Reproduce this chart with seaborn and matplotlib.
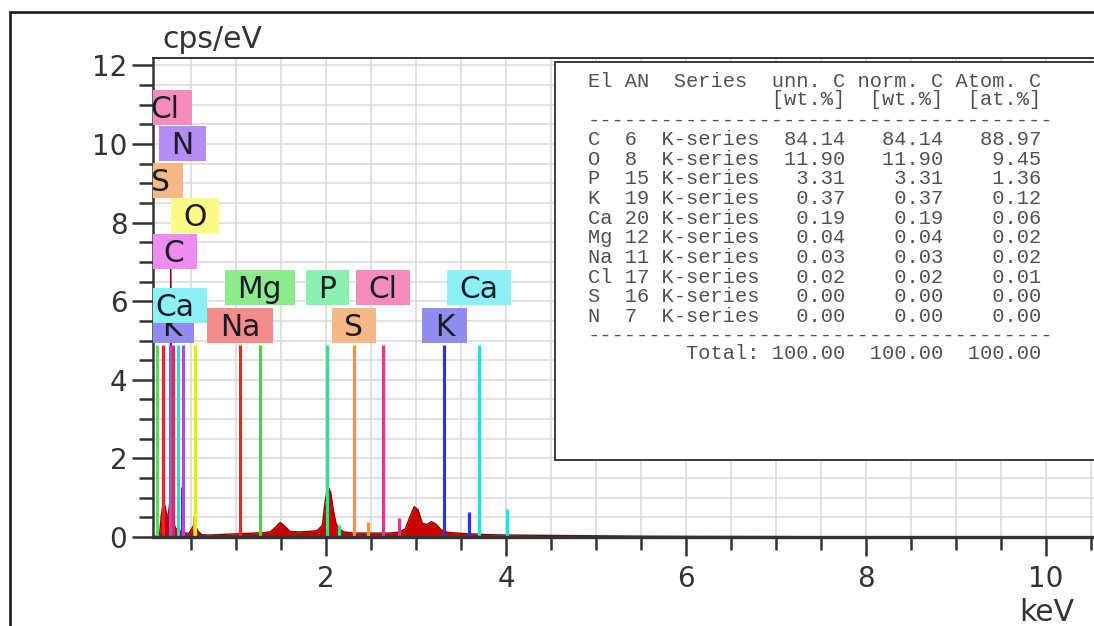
import matplotlib
matplotlib.use("Agg")
import matplotlib.pyplot as plt
import seaborn as sns
from matplotlib.patches import Rectangle
from matplotlib.ticker import MultipleLocator
from matplotlib.transforms import ScaledTranslation

# ---------------- data ----------------
spec_kev = [0.08, 0.15, 0.17, 0.19, 0.21, 0.23, 0.25, 0.265, 0.275, 0.285, 0.30, 0.33,
            0.36, 0.40, 0.44, 0.48, 0.51, 0.53, 0.55, 0.58, 0.62, 0.70, 0.80, 0.90,
            1.00, 1.10, 1.20, 1.30, 1.38, 1.44, 1.49, 1.54, 1.60, 1.70, 1.80, 1.90,
            1.96, 1.99, 2.02, 2.05, 2.08, 2.11, 2.15, 2.20, 2.30, 2.40, 2.50, 2.60,
            2.70, 2.80, 2.88, 2.93, 2.98, 3.02, 3.07, 3.12, 3.17, 3.22, 3.28, 3.35,
            3.45, 3.60, 3.80, 4.00, 4.50, 5.00, 5.50, 6.00, 7.00, 8.00, 10.60]
spec_cps = [0.00, 0.05, 0.55, 0.85, 0.80, 0.55, 0.60, 0.90, 7.00, 0.90, 0.40, 0.22,
            0.18, 0.14, 0.10, 0.10, 0.22, 0.30, 0.28, 0.14, 0.06, 0.05, 0.06, 0.07,
            0.08, 0.09, 0.10, 0.11, 0.13, 0.25, 0.37, 0.28, 0.14, 0.13, 0.14, 0.16,
            0.30, 0.90, 1.28, 1.15, 0.70, 0.35, 0.20, 0.13, 0.10, 0.10, 0.10, 0.10,
            0.10, 0.12, 0.20, 0.50, 0.77, 0.70, 0.35, 0.32, 0.39, 0.33, 0.18, 0.12,
            0.10, 0.08, 0.06, 0.05, 0.04, 0.03, 0.02, 0.015, 0.01, 0.005, 0.005]

line_kev = [0.12, 0.185, 0.267, 0.30, 0.35, 0.40, 0.415, 0.53, 0.545,
            1.045, 1.265, 2.015, 2.139, 2.31, 2.464, 2.63, 2.815,
            3.315, 3.59, 3.695, 4.012]
line_height = [4.88, 4.88, 4.88, 4.88, 4.88, 1.28, 4.88, 0.50, 4.88,
               4.88, 4.88, 4.88, 0.30, 4.88, 0.37, 4.88, 0.48,
               4.88, 0.64, 4.88, 0.71]
line_color = ["#5adc5a", "#e0282d", "#a050e6", "#d0306a", "#28dce6", "#3232dc", "#a050e6", "#f0963c", "#e6e628",
              "#e0282d", "#3cdc3c", "#3cdc8c", "#3cdc8c", "#f0963c", "#f0963c", "#e6338c", "#e6338c",
              "#3232dc", "#3232dc", "#28dce6", "#28dce6"]

label_text = ["K", "Ca", "C", "O", "S", "N", "Cl", "Na", "Mg", "P", "S", "Cl", "K", "Ca"]
label_kev = [0.286, 0.32, 0.31, 0.544, 0.165, 0.405, 0.208, 1.045, 1.265, 2.015, 2.31, 2.63, 3.315, 3.695]
label_y = [5.38, 5.90, 7.26, 8.18, 9.08, 10.01, 10.93, 5.39, 6.35, 6.35, 5.39, 6.35, 5.39, 6.35]
label_face = ["#918cf0", "#8cf0f5", "#f08cf0", "#fafa87", "#f5b987", "#b48cf5", "#f58cb9",
              "#f58c8c", "#8ceb8c", "#8cf0b4", "#f5b987", "#f58cb9", "#918cf0", "#8cf0f5"]

table_el = ["C", "O", "P", "K", "Ca", "Mg", "Na", "Cl", "S", "N"]
table_an = [6, 8, 15, 19, 20, 12, 11, 17, 16, 7]
table_unn = [84.14, 11.90, 3.31, 0.37, 0.19, 0.04, 0.03, 0.02, 0.00, 0.00]
table_norm = [84.14, 11.90, 3.31, 0.37, 0.19, 0.04, 0.03, 0.02, 0.00, 0.00]
table_atom = [88.97, 9.45, 1.36, 0.12, 0.06, 0.02, 0.02, 0.01, 0.00, 0.00]
table_total = [100.00, 100.00, 100.00]

x_ticks_major = 2
x_ticks_minor = 0.5
y_ticks_major = 2
y_ticks_minor = 0.5

# ---------------- layout ----------------
W, H = 1094, 626
sns.set_theme(style="white")
plt.rcParams["font.family"] = ["DejaVu Sans"]

fig = plt.figure(figsize=(W / 100, H / 100), dpi=100)
fig.patch.set_facecolor("white")

def fx(px):
    return px / W

def fy(py):
    return 1 - py / H

ax_l, ax_r, ax_t, ax_b = 153, 1100, 58, 537
ax = fig.add_axes([fx(ax_l), fy(ax_b), (ax_r - ax_l) / W, (ax_b - ax_t) / H])
ax.set_facecolor("white")

px_per_kev, x0_px = 90.0, 146.0
px_per_unit = 39.3

# spectrum
ax.fill_between(spec_kev, spec_cps, 0, color="#cc0000", linewidth=0, zorder=2)
sns.lineplot(x=spec_kev, y=spec_cps, ax=ax, color="#8a0000", linewidth=1.0,
             estimator=None, sort=False, legend=False, zorder=2.2)

# element marker lines
ax.vlines(line_kev, 0, line_height, colors=line_color, linewidth=2.3, zorder=3)

ax.set_xlim((ax_l - x0_px) / px_per_kev, (ax_r - x0_px) / px_per_kev)
ax.set_ylim(0, (ax_b - ax_t) / px_per_unit)

ax.xaxis.set_major_locator(MultipleLocator(x_ticks_major))
ax.xaxis.set_minor_locator(MultipleLocator(x_ticks_minor))
ax.yaxis.set_major_locator(MultipleLocator(y_ticks_major))
ax.yaxis.set_minor_locator(MultipleLocator(y_ticks_minor))
ax.grid(which="both", color="#d9d9d9", linewidth=1.1, zorder=0)
ax.set_axisbelow(True)

ax.tick_params(which="both", bottom=True, left=True, top=False, right=False)
ax.tick_params(axis="x", which="major", direction="out", length=14, width=1.8,
               color="#333333", labelsize=20, labelcolor="#333333", pad=6.5)
ax.tick_params(axis="x", which="minor", direction="out", length=9, width=1.8, color="#333333")
ax.tick_params(axis="y", which="major", direction="out", length=15, width=1.8,
               color="#333333", labelsize=20, labelcolor="#333333", pad=3.5)
ax.tick_params(axis="y", which="minor", direction="out", length=10, width=1.8, color="#333333")
ax.set_xlabel("")
ax.set_ylabel("")

ax.spines["right"].set_visible(False)
ax.spines["left"].set_linewidth(1.8)
ax.spines["left"].set_color("#333333")
ax.spines["bottom"].set_linewidth(2.4)
ax.spines["bottom"].set_color("#333333")
ax.spines["bottom"].set_zorder(4)
ax.spines["top"].set_linewidth(1.4)
ax.spines["top"].set_color("#333333")

# element labels
txt_off = ScaledTranslation(0, -10.5 / 100, fig.dpi_scale_trans)
label_artists = []
for i, (t, e, yc, fc) in enumerate(zip(label_text, label_kev, label_y, label_face)):
    z = 5 + i * 0.2
    ta = ax.text(e, yc, t, transform=ax.transData + txt_off, ha="center", va="baseline",
                 fontsize=21.4, color="#1c1c28", zorder=z + 0.1, clip_on=True)
    label_artists.append((ta, e, yc, fc, z))

fig.canvas.draw()
renderer = fig.canvas.get_renderer()
inv = ax.transData.inverted()
pad_px = 12.5
box_h = 35 / px_per_unit
for ta, e, yc, fc, z in label_artists:
    bb = ta.get_window_extent(renderer)
    (xa, _), (xb, _) = inv.transform([(bb.x0 - pad_px, 0), (bb.x1 + pad_px, 0)])
    ax.add_patch(Rectangle((xa, yc - box_h / 2), xb - xa, box_h, facecolor=fc,
                           edgecolor="none", zorder=z))

# axis titles
fig.text(fx(162), fy(48), "cps/eV", fontsize=21.5, color="#333333", ha="left", va="baseline")
fig.text(fx(1047), fy(621), "keV", fontsize=21.5, color="#333333", ha="center", va="baseline")

# quantification table
fig.patches.append(Rectangle((fx(555), fy(460)), (1110 - 555) / W, (460 - 62) / H,
                             transform=fig.transFigure, facecolor="white",
                             edgecolor="#3a3a3a", linewidth=1.4, zorder=6))
mono = dict(family="Liberation Mono", fontsize=14.7, color="#505050", ha="left",
            va="baseline", zorder=7)
tx0 = fx(588)
header1 = "El AN  Series  unn. C norm. C Atom. C"
header2 = " " * 15 + "[wt.%]  [wt.%]  [at.%]"
dashes = "-" * 38
fig.text(tx0, fy(86.7), header1, **mono)
fig.text(tx0, fy(105), header2, **mono)
fig.text(tx0, fy(125.5), dashes, **mono)
for i, (el, an, u, n, a) in enumerate(zip(table_el, table_an, table_unn, table_norm, table_atom)):
    row = f"{el:<3}{an:<3}K-series{u:>7.2f}{n:>8.2f}{a:>8.2f}"
    fig.text(tx0, fy(145 + 19.67 * i), row, **mono)
fig.text(tx0, fy(340.5), dashes, **mono)
total = " " * 8 + "Total:" + f"{table_total[0]:>7.2f}{table_total[1]:>8.2f}{table_total[2]:>8.2f}"
fig.text(tx0, fy(359), total, **mono)

# outer frame
fig.patches.append(Rectangle((fx(9.5), fy(660)), (1130 - 9.5) / W, (660 - 12) / H,
                             transform=fig.transFigure, facecolor="none",
                             edgecolor="#1a1a1a", linewidth=1.9, zorder=10))

fig.savefig("out.png", dpi=100, facecolor="white")
